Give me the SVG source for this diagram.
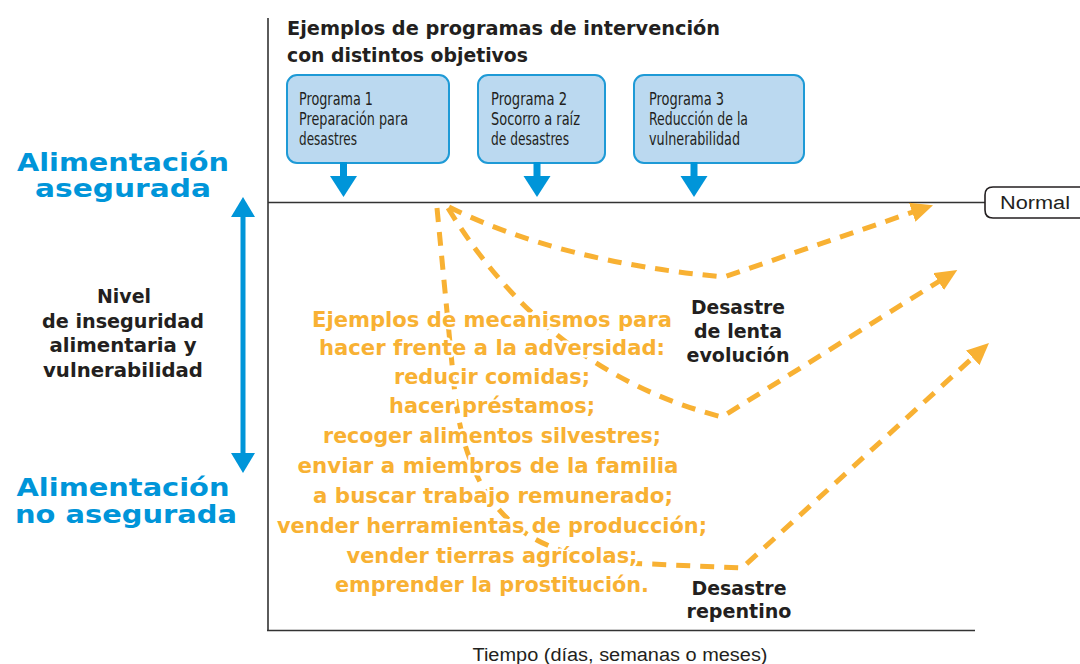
<svg xmlns="http://www.w3.org/2000/svg" width="1080" height="664" viewBox="0 0 1080 664">
<defs>
<style>
.bold{font-family:"DejaVu Sans","Liberation Sans",sans-serif;font-weight:bold}
.reg{font-family:"Liberation Sans","DejaVu Sans",sans-serif;font-size:18px;fill:#231F20}
.narrow{font-family:"Liberation Sans Narrow","DejaVu Sans Condensed","Liberation Sans",sans-serif;font-size:18px;fill:#231F20}
.blue{fill:#0095D9;font-size:24px;text-anchor:middle}
.dark{fill:#231F20;font-size:19px;text-anchor:middle}
.title{fill:#231F20;font-size:19px}
.orange{fill:#F8B133;font-size:22px;text-anchor:middle;stroke:#fff;stroke-width:5;stroke-linejoin:round;paint-order:stroke}
.box{fill:#BBD9F0;stroke:#1E9AD6;stroke-width:2}
.dash{fill:none;stroke:#F8B133;stroke-width:5;stroke-dasharray:14 10}
.axis{stroke:#333;stroke-width:1.6;fill:none}
.barrow{fill:#0095D9}
</style>
<marker id="ah" viewBox="0 0 22 20" refX="4" refY="10" markerWidth="22" markerHeight="20" markerUnits="userSpaceOnUse" orient="auto">
<path d="M0,0 L22,10 L0,20 z" fill="#F8B133"/>
</marker>
</defs>
<rect width="1080" height="664" fill="#fff"/>

<g id="axes">
<line class="axis" x1="268" y1="18" x2="268" y2="631"/>
<line class="axis" x1="267" y1="630.5" x2="975" y2="630.5"/>
<line class="axis" x1="268" y1="202.5" x2="985" y2="202.5"/>
<text class="reg" x="620" y="661" text-anchor="middle" textLength="295" lengthAdjust="spacingAndGlyphs">Tiempo (días, semanas o meses)</text>
</g>

<g id="normal">
<path d="M1082,187 H993 Q985,187 985,195 V210 Q985,218 993,218 H1082" fill="#fff" stroke="#231F20" stroke-width="1.6"/>
<text class="reg" x="1000" y="209" textLength="70" lengthAdjust="spacingAndGlyphs">Normal</text>
</g>

<g id="title">
<text class="bold title" x="287" y="35" textLength="433" lengthAdjust="spacingAndGlyphs">Ejemplos de programas de intervención</text>
<text class="bold title" x="287" y="62" textLength="241" lengthAdjust="spacingAndGlyphs">con distintos objetivos</text>
</g>

<g id="programa1">
<rect class="box" x="287" y="75" width="162" height="88" rx="10"/>
<text class="narrow" x="299" y="105" textLength="74" lengthAdjust="spacingAndGlyphs">Programa 1</text>
<text class="narrow" x="299" y="125" textLength="109" lengthAdjust="spacingAndGlyphs">Preparación para</text>
<text class="narrow" x="299" y="145" textLength="58" lengthAdjust="spacingAndGlyphs">desastres</text>
</g>

<g id="programa2">
<rect class="box" x="478" y="75" width="127" height="88" rx="10"/>
<text class="narrow" x="491" y="105" textLength="76" lengthAdjust="spacingAndGlyphs">Programa 2</text>
<text class="narrow" x="491" y="125" textLength="89" lengthAdjust="spacingAndGlyphs">Socorro a raíz</text>
<text class="narrow" x="491" y="145" textLength="78" lengthAdjust="spacingAndGlyphs">de desastres</text>
</g>

<g id="programa3">
<rect class="box" x="634" y="75" width="170" height="88" rx="10"/>
<text class="narrow" x="649" y="105" textLength="75" lengthAdjust="spacingAndGlyphs">Programa 3</text>
<text class="narrow" x="649" y="125" textLength="99" lengthAdjust="spacingAndGlyphs">Reducción de la</text>
<text class="narrow" x="649" y="145" textLength="91" lengthAdjust="spacingAndGlyphs">vulnerabilidad</text>
</g>

<g id="left-labels">
<text class="bold blue" x="123" y="171" textLength="212" lengthAdjust="spacingAndGlyphs">Alimentación</text>
<text class="bold blue" x="123" y="197" textLength="176" lengthAdjust="spacingAndGlyphs">asegurada</text>
<text class="bold blue" x="123" y="496" textLength="213" lengthAdjust="spacingAndGlyphs">Alimentación</text>
<text class="bold blue" x="126" y="523" textLength="222" lengthAdjust="spacingAndGlyphs">no asegurada</text>
<text class="bold dark" x="124" y="303" textLength="54" lengthAdjust="spacingAndGlyphs">Nivel</text>
<text class="bold dark" x="123" y="328" textLength="162" lengthAdjust="spacingAndGlyphs">de inseguridad</text>
<text class="bold dark" x="123" y="352" textLength="147" lengthAdjust="spacingAndGlyphs">alimentaria y</text>
<text class="bold dark" x="123" y="377" textLength="160" lengthAdjust="spacingAndGlyphs">vulnerabilidad</text>
</g>

<g id="connectors">
<g id="program-arrows">
<rect class="barrow" x="340" y="162" width="7" height="15"/>
<polygon class="barrow" points="330,176 357,176 343.5,197"/>
<rect class="barrow" x="533.5" y="162" width="7" height="15"/>
<polygon class="barrow" points="523.5,176 550.5,176 537,197"/>
<rect class="barrow" x="690.5" y="162" width="7" height="15"/>
<polygon class="barrow" points="680.5,176 707.5,176 694,197"/>
</g>
<g id="level-arrow">
<line x1="243" y1="214" x2="243" y2="456" stroke="#0095D9" stroke-width="5"/>
<polygon class="barrow" points="243,197 231,217 255,217"/>
<polygon class="barrow" points="243,473 231,453 255,453"/>
</g>
<path id="slow-top" class="dash" d="M449,207 Q560,262 724,277 L916,211" marker-end="url(#ah)"/>
<path id="slow-lower" class="dash" d="M448,208 Q548,372 722,417 L942,279.5" marker-end="url(#ah)"/>
<path id="sudden" class="dash" d="M437,208 L455,395 Q470,520 560,550 Q600,563 650,564 L742,568 L975.7,355.1" marker-end="url(#ah)"/>
</g>

<g id="mecanismos">
<text class="bold orange" x="492" y="327" textLength="360" lengthAdjust="spacingAndGlyphs">Ejemplos de mecanismos para</text>
<text class="bold orange" x="492" y="355" textLength="346" lengthAdjust="spacingAndGlyphs">hacer frente a la adversidad:</text>
<text class="bold orange" x="492" y="384" textLength="196" lengthAdjust="spacingAndGlyphs">reducir comidas;</text>
<text class="bold orange" x="492" y="413" textLength="206" lengthAdjust="spacingAndGlyphs">hacer préstamos;</text>
<text class="bold orange" x="492" y="443" textLength="338" lengthAdjust="spacingAndGlyphs">recoger alimentos silvestres;</text>
<text class="bold orange" x="488" y="473" textLength="381" lengthAdjust="spacingAndGlyphs">enviar a miembros de la familia</text>
<text class="bold orange" x="493" y="503" textLength="360" lengthAdjust="spacingAndGlyphs">a buscar trabajo remunerado;</text>
<text class="bold orange" x="492" y="533" textLength="430" lengthAdjust="spacingAndGlyphs">vender herramientas de producción;</text>
<text class="bold orange" x="492" y="563" textLength="291" lengthAdjust="spacingAndGlyphs">vender tierras agrícolas;</text>
<text class="bold orange" x="492" y="592" textLength="314" lengthAdjust="spacingAndGlyphs">emprender la prostitución.</text>
</g>

<g id="desastre-lento">
<text class="bold dark" x="738" y="314" textLength="94" lengthAdjust="spacingAndGlyphs">Desastre</text>
<text class="bold dark" x="738" y="338" textLength="88" lengthAdjust="spacingAndGlyphs">de lenta</text>
<text class="bold dark" x="738" y="362" textLength="103" lengthAdjust="spacingAndGlyphs">evolución</text>
</g>

<g id="desastre-repentino">
<text class="bold dark" x="739" y="595" textLength="95" lengthAdjust="spacingAndGlyphs">Desastre</text>
<text class="bold dark" x="739" y="618" textLength="105" lengthAdjust="spacingAndGlyphs">repentino</text>
</g>
</svg>
